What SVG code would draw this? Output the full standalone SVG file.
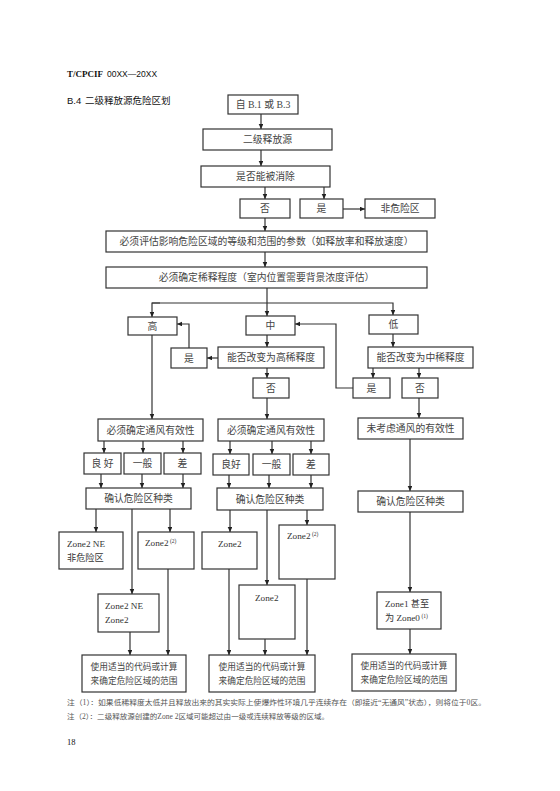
<svg xmlns="http://www.w3.org/2000/svg" width="560" height="791" viewBox="0 0 560 791">
<defs>
<marker id="ah" markerWidth="5" markerHeight="5" refX="5" refY="2.3" orient="auto" markerUnits="userSpaceOnUse"><path d="M0,0 L5,2.3 L0,4.6 z" fill="#222"/></marker>
<style>
.b{fill:#fff;stroke:#333;stroke-width:1.2}
.t{font-family:"Liberation Serif","Noto Sans CJK SC",serif;font-size:9.8px;fill:#444;text-anchor:middle}
.s{font-size:8.7px}
.z{font-family:"Liberation Serif","Noto Sans CJK SC",serif;font-size:9.2px;fill:#333}
.sup{font-size:5.5px}
.c path,.c line{fill:none;stroke:#333;stroke-width:1.2}
.c .a{marker-end:url(#ah)}
.n{font-family:"Liberation Serif","Noto Sans CJK SC",serif;font-size:7.2px;fill:#555}
</style>
</defs>
<rect width="560" height="791" fill="#fff"/>
<text x="67" y="77" font-family="Liberation Serif,serif" font-weight="bold" font-size="9" fill="#111">T/CPCIF<tspan font-family="Liberation Sans,sans-serif" font-weight="normal" font-size="8.5" dx="4">00XX—20XX</tspan></text>
<text x="67" y="104" font-family="Liberation Sans,'Noto Sans CJK SC',sans-serif" font-size="9.5" fill="#111">B.4 <tspan dx="1">二级释放源危险区划</tspan></text>

<g class="c" id="connectors">
<line class="a" x1="261" y1="114" x2="261" y2="129"/>
<line class="a" x1="261" y1="150" x2="261" y2="166"/>
<line class="a" x1="265" y1="187" x2="265" y2="199"/>
<line class="a" x1="324" y1="187" x2="324" y2="199"/>
<line class="a" x1="343" y1="209" x2="365" y2="209"/>
<line class="a" x1="265" y1="218" x2="265" y2="231"/>
<line class="a" x1="265" y1="252" x2="265" y2="267"/>
<line class="a" x1="267" y1="288" x2="267" y2="316"/>
<path class="a" d="M152,303 H393 V315"/>
<path class="a" d="M160,303 H152 V317"/>
<line class="a" x1="267" y1="335" x2="267" y2="347"/>
<line class="a" x1="218" y1="358" x2="207" y2="358"/>
<path class="a" d="M189,348 V324 H177"/>
<line class="a" x1="267" y1="368" x2="267" y2="378"/>
<line class="a" x1="393" y1="334" x2="393" y2="347"/>
<line class="a" x1="373" y1="368" x2="373" y2="378"/>
<line class="a" x1="419" y1="368" x2="419" y2="378"/>
<path class="a" d="M353,388 H336 V324 H295"/>
<line class="a" x1="152" y1="335" x2="152" y2="419"/>
<line class="a" x1="104" y1="441" x2="104" y2="453"/>
<line class="a" x1="143" y1="441" x2="143" y2="453"/>
<line class="a" x1="183" y1="441" x2="183" y2="453"/>
<line class="a" x1="101" y1="474" x2="101" y2="488"/>
<line class="a" x1="142" y1="474" x2="142" y2="488"/>
<line class="a" x1="183" y1="474" x2="183" y2="488"/>
<line class="a" x1="96" y1="509" x2="96" y2="532"/>
<line class="a" x1="170" y1="509" x2="170" y2="532"/>
<line class="a" x1="132" y1="509" x2="132" y2="594"/>
<line class="a" x1="130" y1="632" x2="130" y2="655"/>
<line class="a" x1="168" y1="569" x2="168" y2="655"/>
<line class="a" x1="267" y1="398" x2="267" y2="419"/>
<line class="a" x1="230" y1="441" x2="230" y2="454"/>
<line class="a" x1="272" y1="441" x2="272" y2="454"/>
<line class="a" x1="311" y1="441" x2="311" y2="454"/>
<line class="a" x1="229" y1="475" x2="229" y2="488"/>
<line class="a" x1="269" y1="475" x2="269" y2="488"/>
<line class="a" x1="311" y1="475" x2="311" y2="488"/>
<line class="a" x1="230" y1="510" x2="230" y2="532"/>
<line class="a" x1="307" y1="510" x2="307" y2="525"/>
<line class="a" x1="267" y1="510" x2="267" y2="585"/>
<line class="a" x1="229" y1="569" x2="229" y2="655"/>
<line class="a" x1="265" y1="639" x2="265" y2="655"/>
<line class="a" x1="307" y1="579" x2="307" y2="655"/>
<line class="a" x1="419" y1="398" x2="419" y2="418"/>
<line class="a" x1="410" y1="439" x2="410" y2="491"/>
<line class="a" x1="410" y1="512" x2="410" y2="592"/>
<line class="a" x1="410" y1="629" x2="410" y2="654"/>
</g>

<g id="n-src"><rect class="b" x="228" y="95" width="70" height="19"/><text class="t" x="263" y="108">自 B.1 或 B.3</text></g>
<g id="n-secondary"><rect class="b" x="203" y="129" width="129" height="21"/><text class="t" x="267.5" y="143">二级释放源</text></g>
<g id="n-eliminate"><rect class="b" x="201" y="166" width="129" height="21"/><text class="t" x="265.5" y="180">是否能被消除</text></g>
<g id="n-no1"><rect class="b" x="240" y="199" width="50" height="19"/><text class="t" x="265" y="212">否</text></g>
<g id="n-yes1"><rect class="b" x="300" y="199" width="43" height="19"/><text class="t" x="321.5" y="212">是</text></g>
<g id="n-nonhaz"><rect class="b" x="365" y="199" width="70" height="19"/><text class="t" x="400" y="212">非危险区</text></g>
<g id="n-assess"><rect class="b" x="106" y="231" width="321" height="21"/><text class="t" x="266.5" y="245">必须评估影响危险区域的等级和范围的参数（如释放率和释放速度）</text></g>
<g id="n-dilution"><rect class="b" x="106" y="267" width="321" height="21"/><text class="t" x="266.5" y="281">必须确定稀释程度（室内位置需要背景浓度评估）</text></g>
<g id="n-high"><rect class="b" x="128" y="317" width="49" height="18"/><text class="t" x="152.5" y="329.5">高</text></g>
<g id="n-mid"><rect class="b" x="246" y="316" width="49" height="19"/><text class="t" x="270.5" y="329">中</text></g>
<g id="n-low"><rect class="b" x="369" y="315" width="49" height="19"/><text class="t" x="393.5" y="328">低</text></g>
<g id="n-tohigh"><rect class="b" x="218" y="347" width="106" height="21"/><text class="t" x="271" y="361">能否改变为高稀释度</text></g>
<g id="n-yes2"><rect class="b" x="171" y="348" width="36" height="20"/><text class="t" x="189" y="361.5">是</text></g>
<g id="n-no2"><rect class="b" x="253" y="378" width="36" height="20"/><text class="t" x="271" y="391.5">否</text></g>
<g id="n-tomid"><rect class="b" x="368" y="347" width="105" height="21"/><text class="t" x="420.5" y="361">能否改变为中稀释度</text></g>
<g id="n-yes3"><rect class="b" x="353" y="378" width="37" height="20"/><text class="t" x="371.5" y="391.5">是</text></g>
<g id="n-no3"><rect class="b" x="402" y="378" width="36" height="20"/><text class="t" x="420" y="391.5">否</text></g>

<g id="n-vent-l"><rect class="b" x="98" y="419" width="105" height="22"/><text class="t" x="150.5" y="433.5">必须确定通风有效性</text></g>
<g id="n-good-l"><rect class="b" x="84" y="453" width="37" height="21"/><text class="t" x="102.5" y="467">良 好</text></g>
<g id="n-fair-l"><rect class="b" x="124" y="453" width="37" height="21"/><text class="t" x="142.5" y="467">一般</text></g>
<g id="n-poor-l"><rect class="b" x="164" y="453" width="37" height="21"/><text class="t" x="182.5" y="467">差</text></g>
<g id="n-type-l"><rect class="b" x="86" y="488" width="105" height="21"/><text class="t" x="138.5" y="502">确认危险区种类</text></g>
<g id="n-z2ne-nh"><rect class="b" x="59" y="532" width="64" height="37"/><text class="z" x="67" y="547">Zone2 NE</text><text class="z" x="67" y="561">非危险区</text></g>
<g id="n-z2-l"><rect class="b" x="138" y="532" width="56" height="37"/><text class="z" x="145" y="546">Zone2<tspan class="sup" dx="1.5" dy="-3.5">(2)</tspan></text></g>
<g id="n-z2ne-z2"><rect class="b" x="98" y="594" width="61" height="38"/><text class="z" x="105" y="609">Zone2 NE</text><text class="z" x="105" y="623">Zone2</text></g>
<g id="n-calc-l"><rect class="b" x="82" y="655" width="104" height="37"/><text class="t s" x="134" y="670">使用适当的代码或计算</text><text class="t s" x="134" y="684">来确定危险区域的范围</text></g>

<g id="n-vent-m"><rect class="b" x="218" y="419" width="106" height="22"/><text class="t" x="271" y="433.5">必须确定通风有效性</text></g>
<g id="n-good-m"><rect class="b" x="213" y="454" width="36" height="21"/><text class="t" x="231" y="468">良好</text></g>
<g id="n-fair-m"><rect class="b" x="253" y="454" width="37" height="21"/><text class="t" x="271.5" y="468">一般</text></g>
<g id="n-poor-m"><rect class="b" x="293" y="454" width="36" height="21"/><text class="t" x="311" y="468">差</text></g>
<g id="n-type-m"><rect class="b" x="217" y="488" width="106" height="22"/><text class="t" x="270" y="502.5">确认危险区种类</text></g>
<g id="n-z2-ml"><rect class="b" x="202" y="532" width="55" height="37"/><text class="z" x="218" y="547">Zone2</text></g>
<g id="n-z2-mr"><rect class="b" x="279" y="525" width="56" height="54"/><text class="z" x="287" y="539">Zone2<tspan class="sup" dx="1.5" dy="-3.5">(2)</tspan></text></g>
<g id="n-z2-mb"><rect class="b" x="239" y="585" width="56" height="54"/><text class="z" x="255" y="601">Zone2</text></g>
<g id="n-calc-m"><rect class="b" x="209" y="655" width="106" height="37"/><text class="t s" x="262" y="670">使用适当的代码或计算</text><text class="t s" x="262" y="684">来确定危险区域的范围</text></g>

<g id="n-novent"><rect class="b" x="358" y="418" width="105" height="21"/><text class="t" x="410.5" y="432">未考虑通风的有效性</text></g>
<g id="n-type-r"><rect class="b" x="358" y="491" width="105" height="21"/><text class="t" x="410.5" y="505">确认危险区种类</text></g>
<g id="n-z1"><rect class="b" x="377" y="592" width="64" height="37"/><text class="z" x="385" y="607">Zone1 甚至</text><text class="z" x="385" y="621">为 Zone0<tspan class="sup" dx="1.5" dy="-3.5">(1)</tspan></text></g>
<g id="n-calc-r"><rect class="b" x="352" y="654" width="104" height="37"/><text class="t s" x="404" y="669">使用适当的代码或计算</text><text class="t s" x="404" y="683">来确定危险区域的范围</text></g>

<text class="n" x="67" y="705" textLength="419" lengthAdjust="spacingAndGlyphs">注（1）：如果低稀释度太低并且释放出来的其实实际上使爆炸性环境几乎连续存在（即接近“无通风”状态），则将位于0区。</text>
<text class="n" x="67" y="719" textLength="262" lengthAdjust="spacingAndGlyphs">注（2）：二级释放源创建的Zone 2区域可能超过由一级或连续释放等级的区域。</text>
<text x="67" y="745" font-family="Liberation Serif,serif" font-size="8.5" fill="#111">18</text>
</svg>
